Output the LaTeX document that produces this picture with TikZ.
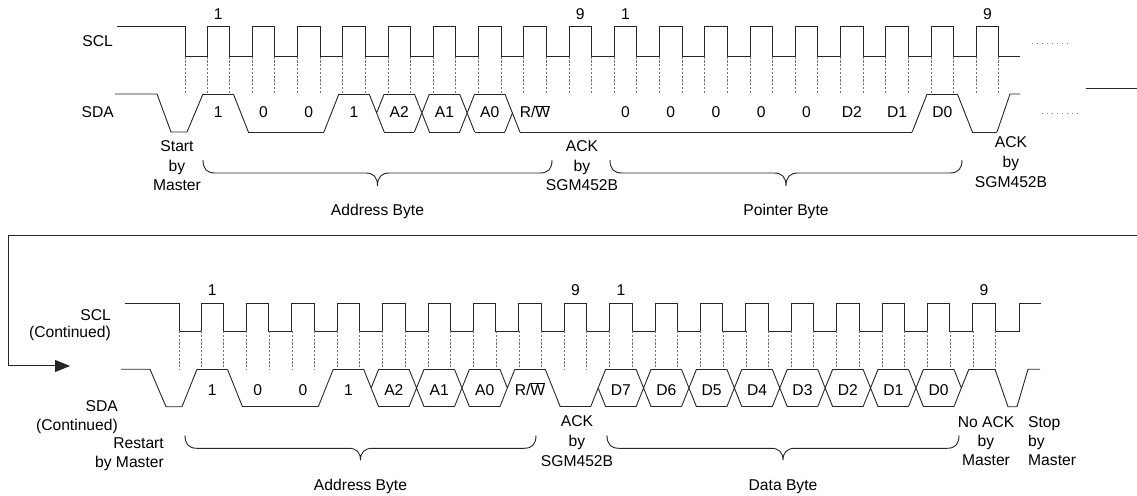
\documentclass[tikz,border=0pt]{standalone}
\usepackage{fontspec}
\setmainfont{Liberation Sans}
\usetikzlibrary{arrows.meta}
% transitions: #1 centre x, #2 top y, #3 bottom y
\newcommand\trHL[3]{\draw[sig] (#1-7.5,#2) -- (#1+7.5,#3);}
\newcommand\trLH[3]{\draw[sig] (#1-7.5,#3) -- (#1+7.5,#2);}
\newcommand\trHH[3]{\draw[sig] (#1-7.5,#2) -- (#1+7.5,#2);}
\newcommand\trLL[3]{\draw[sig] (#1-7.5,#3) -- (#1+7.5,#3);}
\newcommand\trXX[3]{\draw[sig] (#1-7.5,#2) -- (#1+7.5,#3) (#1-7.5,#3) -- (#1+7.5,#2);}
\newcommand\trHX[3]{\draw[sig] (#1-7.5,#2) -- (#1+7.5,#3) (#1,{(#2+#3)/2}) -- (#1+7.5,#2);}
\newcommand\trLX[3]{\draw[sig] (#1-7.5,#3) -- (#1+7.5,#2) (#1,{(#2+#3)/2}) -- (#1+7.5,#3);}
\newcommand\trXL[3]{\draw[sig] (#1-7.5,#2) -- (#1+7.5,#3) (#1-7.5,#3) -- (#1,{(#2+#3)/2});}
\newcommand\trXH[3]{\draw[sig] (#1-7.5,#3) -- (#1+7.5,#2) (#1-7.5,#2) -- (#1,{(#2+#3)/2});}
% levels: #1 start, #2 end, #3 top, #4 bottom
\newcommand\lvH[4]{\draw[sig] (#1,#3) -- (#2,#3);}
\newcommand\lvL[4]{\draw[sig] (#1,#4) -- (#2,#4);}
\newcommand\lvX[4]{\draw[sig] (#1,#3) -- (#2,#3) (#1,#4) -- (#2,#4);}
% brace: #1 x1, #2 x2, #3 line y, #4 tip depth
\newcommand\bytebrace[4]{%
  \pgfmathsetmacro\bxc{(#1+#2)/2}
  \draw[brc] (#1,#3-13) .. controls (#1,#3-4) and (#1+4,#3) .. (#1+12,#3)
    -- (\bxc-12,#3) .. controls (\bxc-4,#3) and (\bxc,#3+4) .. (\bxc,#3+#4)
    .. controls (\bxc,#3+4) and (\bxc+4,#3) .. (\bxc+12,#3)
    -- (#2-12,#3) .. controls (#2-4,#3) and (#2,#3-4) .. (#2,#3-13);}
\newcommand\RW{R/$\overline{\mbox{W}}$}
\begin{document}
\begin{tikzpicture}[x=1bp,y=-1bp,
  sig/.style={line width=0.9bp, draw=black!85},
  tick/.style={line width=0.6bp, draw=black!55, dash pattern=on 2.2bp off 1.6bp},
  dots/.style={line width=0.8bp, draw=black!50, dash pattern=on 0.8bp off 4.2bp},
  brc/.style={line width=0.9bp, draw=black!85},
  lab/.style={font=\fontsize{15.7}{19}\selectfont, inner sep=0pt, anchor=base}]
\useasboundingbox (0,0) rectangle (1137,496);

%================ TOP =================
% SCL
\draw[sig] (117,26) -- (185,26) -- (185,56.7)
  \foreach \i in {0,...,17}{ -- ({207+45.25*\i},56.7) -- ++(0,-30.7) -- ++(22.5,0) -- ++(0,30.7)}
  -- (1020,56.7);
\draw[tick] (185,56.7) -- (185,94);
\foreach \i in {0,...,17}{
  \pgfmathsetmacro\xr{207+45.25*\i}
  \draw[tick] (\xr,56.7) -- (\xr,94) (\xr+22.5,56.7) -- (\xr+22.5,94);}
% SDA
\draw[sig] (115,94) -- (157,94) -- (171,132) -- (187,132) -- (203,94);
\foreach \ty [count=\i from 0] in {HL,LL,LH,HX,XX,XX,XL,LL,LL,LL,LL,LL,LL,LL,LL,LH,HL}{
  \pgfmathsetmacro\xcc{207+45.25*\i+33.9}
  \csname tr\ty\endcsname{\xcc}{94}{132}}
\foreach \lvl [count=\i from 0] in {H,L,L,H,X,X,X,L,L,L,L,L,L,L,L,L,H,L}{
  \pgfmathsetmacro\xs{\i==0 ? 203 : 207+45.25*(\i-1)+33.9+7.5}
  \pgfmathsetmacro\xe{\i==17 ? 997 : 207+45.25*\i+33.9-7.5}
  \csname lv\lvl\endcsname{\xs}{\xe}{94}{132}}
\draw[sig] (997,132) -- (1010,94) -- (1020,94);
% continuation marks
\coordinate (dA1) at (1032,43); \coordinate (dA2) at (1068,43);
\coordinate (dB1) at (1042,113); \coordinate (dB2) at (1078,113);
\draw[dots] (dA1) -- (dA2) (dB1) -- (dB2);
\coordinate (sl1) at (1086,88); \coordinate (sl2) at (1137,88);
\draw[sig] (sl1) -- (sl2);

% labels
\node[lab, anchor=base east] (sclT) at (113,46.7) {SCL};
\node[lab, anchor=base east] (sdaT) at (114,118) {SDA};
\node[lab] (pT1) at (218.25,20) {1};
\node[lab] (pT9) at (580.25,20) {9};
\node[lab] (pT1b) at (625.5,20) {1};
\node[lab] (pT9b) at (987.5,20) {9};
\foreach \i/\t in {0/1,1/0,2/0,3/1,4/A2,5/A1,6/A0,7/\RW,9/0,10/0,11/0,12/0,13/0,14/D2,15/D1,16/D0}{
  \node[lab] (tb\i) at ({207+45.25*\i+11.25},118) {\t};}
\node[lab] (st1) at (177,152) {Start};
\node[lab] (st2) at (177,171.5) {by};
\node[lab] (st3) at (177,190.7) {Master};
\node[lab] (ak1) at (582,152) {ACK};
\node[lab] (ak2) at (582,171.5) {by};
\node[lab] (ak3) at (582,191) {SGM452B};
\node[lab] (ar1) at (1011,148) {ACK};
\node[lab] (ar2) at (1011,168) {by};
\node[lab] (ar3) at (1011,188) {SGM452B};
\bytebrace{203}{552}{173}{13}
\bytebrace{610}{962}{173}{13}
\node[lab] (adT) at (377.5,215.5) {Address Byte};
\node[lab] (ptT) at (786,215.5) {Pointer Byte};

%================ WRAP ARROW =================
\coordinate (wr1) at (1137,235.7);
\coordinate (wr2) at (8,235.7);
\coordinate (wr3) at (8,366);
\coordinate (wr4) at (70,366);
\draw[sig, line width=1bp, -{Triangle[length=15bp,width=12bp]}] (wr1) -- (wr2) -- (wr3) -- (wr4);

%================ BOTTOM =================
\draw[sig] (125,303.3) -- (179,303.3) -- (179,331)
  \foreach \i in {0,...,17}{ -- ({201+45.4*\i},331) -- ++(0,-27.7) -- ++(22.5,0) -- ++(0,27.7)}
  -- (1019,331) -- (1019,303.3) -- (1041,303.3);
\draw[tick] (179,331) -- (179,369.3);
\foreach \i in {0,...,17}{
  \pgfmathsetmacro\xr{201+45.4*\i}
  \draw[tick] (\xr,331) -- (\xr,369.3) (\xr+22.5,331) -- (\xr+22.5,369.3);}
\draw[sig] (121,369.3) -- (150,369.3) -- (166,406.7) -- (182,406.7) -- (197,369.3);
\foreach \ty [count=\i from 0] in {HL,LL,LH,HX,XX,XX,XH,HL,LX,XX,XX,XX,XX,XX,XX,XX,XH}{
  \pgfmathsetmacro\xcc{201+45.4*\i+33.95}
  \csname tr\ty\endcsname{\xcc}{369.3}{406.7}}
\foreach \lvl [count=\i from 0] in {H,L,L,H,X,X,X,H,L,X,X,X,X,X,X,X,X,H}{
  \pgfmathsetmacro\xs{\i==0 ? 197 : 201+45.4*(\i-1)+33.95+7.5}
  \pgfmathsetmacro\xe{\i==17 ? 995 : 201+45.4*\i+33.95-7.5}
  \csname lv\lvl\endcsname{\xs}{\xe}{369.3}{406.7}}
\draw[sig] (995,369.3) -- (1008,406.7) -- (1017,406.7) -- (1028,369.3) -- (1040,369.3);

\node[lab, anchor=base east] (sclB1) at (111,321) {SCL};
\node[lab, anchor=base east] (sclB2) at (111,337.3) {(Continued)};
\node[lab, anchor=base east] (sdaB1) at (118,411.7) {SDA};
\node[lab, anchor=base east] (sdaB2) at (118,430) {(Continued)};
\node[lab] (pB1) at (212.25,296) {1};
\node[lab] (pB9) at (575.45,296) {9};
\node[lab] (pB1b) at (620.85,296) {1};
\node[lab] (pB9b) at (984,296) {9};
\foreach \i/\t in {0/1,1/0,2/0,3/1,4/A2,5/A1,6/A0,7/\RW,9/D7,10/D6,11/D5,12/D4,13/D3,14/D2,15/D1,16/D0}{
  \node[lab] (bb\i) at ({201+45.4*\i+11.25},395) {\t};}
\node[lab, anchor=base east] (rs1) at (164,448.3) {Restart};
\node[lab, anchor=base east] (rs2) at (164,467.3) {by Master};
\node[lab] (bk1) at (577,426.7) {ACK};
\node[lab] (bk2) at (577,446) {by};
\node[lab] (bk3) at (577,466) {SGM452B};
\node[lab] (na1) at (986,427) {No ACK};
\node[lab] (na2) at (986,446) {by};
\node[lab] (na3) at (986,465) {Master};
\node[lab, anchor=base west] (sp1) at (1028,427) {Stop};
\node[lab, anchor=base west] (sp2) at (1028,446) {by};
\node[lab, anchor=base west] (sp3) at (1028,465) {Master};
\bytebrace{185}{536}{448.3}{12}
\bytebrace{607}{959}{448.3}{12}
\node[lab] (adB) at (360.5,490) {Address Byte};
\node[lab] (dtB) at (783,490) {Data Byte};
\end{tikzpicture}
\end{document}
